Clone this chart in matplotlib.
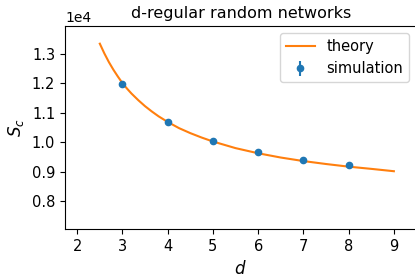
import matplotlib
matplotlib.use('Agg')
import matplotlib.pyplot as plt
from matplotlib.ticker import MultipleLocator

# theory curve
d_theory = [2.5, 2.6, 2.7, 2.8, 2.9, 3.0, 3.1, 3.2, 3.35, 3.5, 3.65, 3.8, 4.0, 4.25,
            4.5, 4.75, 5.0, 5.5, 6.0, 6.5, 7.0, 7.5, 8.0, 8.5, 9.0]
S_theory = [13350, 13020, 12725, 12465, 12230, 12010, 11825, 11655, 11430, 11225,
            11045, 10880, 10690, 10480, 10310, 10160, 10025, 9800, 9625, 9480,
            9360, 9260, 9170, 9095, 9015]

# simulation points
d_sim = [3, 4, 5, 6, 7, 8]
S_sim = [11970, 10690, 10040, 9660, 9390, 9220]
S_err = [30, 25, 20, 20, 15, 15]

fig = plt.figure(figsize=(4.15, 2.8), dpi=100)
ax = fig.add_axes([0.1566, 0.181, 0.847, 0.726])

th, = ax.plot(d_theory, S_theory, color='C1', label='theory')
sim = ax.errorbar(d_sim, S_sim, yerr=S_err, fmt='o', color='C0', markersize=4.5,
                  label='simulation')

ax.set_xlim(1.73, 9.5)
ax.set_ylim(7040, 13950)
ax.yaxis.set_major_locator(MultipleLocator(1000))
ax.ticklabel_format(style='sci', axis='y', scilimits=(0, 0))
ax.tick_params(labelsize=10.5)

ax.set_xlabel('$d$', fontsize=12)
ax.set_ylabel('$S_c$', fontsize=12)
ax.set_title('d-regular random networks', fontsize=11.5)
ax.legend(handles=[th, sim], loc='upper right', fontsize=10.5)

fig.savefig('out.png', dpi=100)
